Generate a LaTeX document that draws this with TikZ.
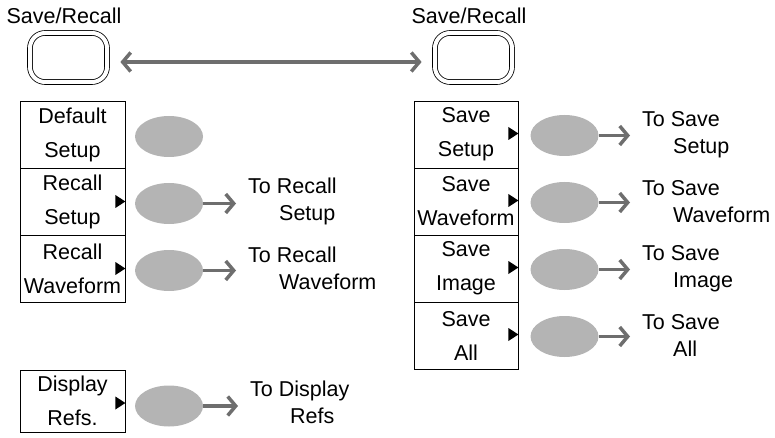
\documentclass[tikz,border=0pt]{standalone}
\usepackage{fontspec}
\setmainfont{Liberation Sans}
\usetikzlibrary{arrows.meta, shapes.geometric, calc}
\definecolor{knobgray}{RGB}{180,180,180}
\definecolor{arrowgray}{RGB}{110,110,110}

\begin{document}
\begin{tikzpicture}[x=1pt, y=-1pt,
    menubox/.style={draw, line width=0.8pt, minimum width=105pt, minimum height=67pt, inner sep=0pt,
      align=center, font=\fontsize{21.5}{34}\selectfont},
    knob/.style={ellipse, fill=knobgray, minimum width=68pt, minimum height=41pt, inner sep=0pt},
    goto/.style={draw=arrowgray, line width=3.5pt, -{Straight Barb[length=8pt, width=19pt]}},
    target/.style={anchor=west, align=left, inner sep=0pt, font=\fontsize{21.5}{27}\selectfont},
    panelkey/.style={draw, double, double distance=4pt, line width=0.8pt, rounded corners=15pt,
      minimum width=77pt, minimum height=49pt, inner sep=0pt},
    tri/.style={fill=black}]
    \useasboundingbox (0,0) rectangle (775,438);

    % front panel keys
    \node[font=\fontsize{21.5}{24}\selectfont] (ltitle) at (64,16) {Save/Recall};
    \node[font=\fontsize{21.5}{24}\selectfont] (rtitle) at (469,16) {Save/Recall};
    \node[panelkey] (lkey) at (68.5,57.5) {};
    \node[panelkey] (rkey) at (473.5,57.5) {};
    \draw[draw=arrowgray, line width=3.5pt, {Straight Barb[length=8pt, width=19pt]}-{Straight Barb[length=8pt, width=19pt]},
      shorten <=13pt, shorten >=13pt] ($(lkey.east)+(0,4.5)$) -- ($(rkey.west)+(0,4.5)$);

    % recall menu
    \foreach \i/\y/\txt in {1/134.5/{Default\\Setup}, 2/201.5/{Recall\\Setup}, 3/268.5/{Recall\\Waveform}}
    {
      \node[menubox] (lb\i) at (72.5,\y) {\txt};
      \node[knob] (lk\i) at (169,\y+2) {};
    }
    \foreach \i/\to/\ind in {2/Recall/Setup, 3/Recall/Waveform}
    {
      \fill[tri] ($(lb\i.east)+(-10,-6.5)$) -- (lb\i.east) -- ($(lb\i.east)+(-10,6.5)$) -- cycle;
      \node[target] (lt\i) at (248,{201.5+67*(\i-2)}) {To \to\\\hspace*{31pt}\ind};
      \draw[goto] (lk\i.east) -- ($(lk\i.east -| lt\i.west)+(-12,0)$);
    }

    % save menu
    \foreach \i/\ind in {1/Setup, 2/Waveform, 3/Image, 4/All}
    {
      \node[menubox, minimum width=104pt] (rb\i) at (466,{134.5+67*(\i-1)}) {Save\\\ind};
      \node[knob] (rk\i) at (564.5,{135.5+67*(\i-1)}) {};
      \fill[tri] ($(rb\i.east)+(-10,-7.5)$) -- ($(rb\i.east)+(0,-1)$) -- ($(rb\i.east)+(-10,5.5)$) -- cycle;
      \node[target] (rt\i) at (642,{134.5+67*(\i-1)}) {To Save\\\hspace*{31pt}\ind};
      \draw[goto] (rk\i.east) -- ($(rk\i.east -| rt\i.west)+(-12,0)$);
    }

    % display refs
    \node[menubox, minimum height=62pt] (db) at (72.5,401) {Display\\Refs.};
    \node[knob] (dk) at (169,406) {};
    \fill[tri] ($(db.east)+(-10,-4.5)$) -- ($(db.east)+(0,2)$) -- ($(db.east)+(-10,8.5)$) -- cycle;
    \node[target] (dt) at (250,402) {To Display\\\hspace*{40pt}Refs};
    \draw[goto] (dk.east) -- ($(dk.east -| dt.west)+(-12,0)$);
\end{tikzpicture}
\end{document}
